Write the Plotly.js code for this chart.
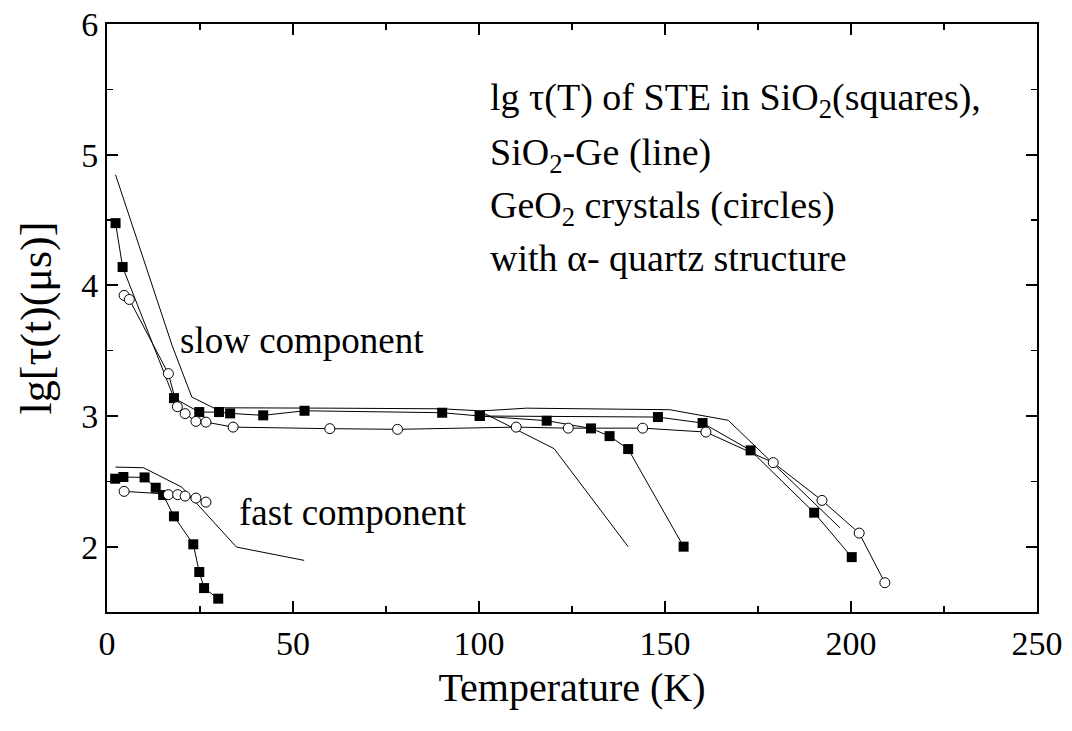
<!DOCTYPE html>
<html>
<head>
<meta charset="utf-8">
<script src="https://cdn.plot.ly/plotly-3.0.1.min.js"></script>
<style>html,body{margin:0;padding:0;background:#fff;}#chart{width:1072px;height:731px;}</style>
</head>
<body>
<div id="chart"></div>
<script>
// Slow component, SiO2 (squares), branch A
const sqSlowA_T = [2.3, 4.2, 18.0, 24.8, 30.1, 33.1, 42.0, 53.1, 90.1, 100.2, 148.1, 160.1, 173.0, 190.1, 200.2];
const sqSlowA_y = [4.476, 4.14, 3.137, 3.03, 3.03, 3.02, 3.005, 3.04, 3.025, 3.0, 2.992, 2.946, 2.737, 2.26, 1.92];
// Slow component, SiO2 (squares), branch B
const sqSlowB_T = [100.2, 118.2, 130.1, 135.1, 140.1, 155.0];
const sqSlowB_y = [3.0, 2.964, 2.905, 2.846, 2.747, 2.0];
// Slow component, GeO2 crystals (circles)
const ciSlow_T = [4.6, 6.0, 16.5, 18.9, 21.0, 23.9, 26.6, 33.9, 59.9, 78.1, 110.0, 124.0, 144.0, 161.0, 179.1, 192.2, 202.2, 209.1];
const ciSlow_y = [3.923, 3.892, 3.324, 3.071, 3.018, 2.959, 2.953, 2.915, 2.903, 2.898, 2.915, 2.907, 2.907, 2.877, 2.643, 2.354, 2.104, 1.724];
// Slow component, SiO2-Ge (lines)
const geSlow1_T = [2.3, 17.5, 22.8, 28.6, 60.0, 90.0, 100.0, 120.2, 140.1];
const geSlow1_y = [4.846, 3.54, 3.145, 3.063, 3.06, 3.055, 3.04, 2.75, 2.0];
const geSlow2_T = [100.0, 103.0, 112.8, 151.3, 167.0, 197.0];
const geSlow2_y = [3.04, 3.043, 3.06, 3.048, 2.967, 2.145];
// Fast component
const sqFast_T = [2.2, 4.4, 10.1, 13.1, 15.1, 18.0, 23.2, 24.8, 26.1, 29.9];
const sqFast_y = [2.52, 2.533, 2.53, 2.451, 2.395, 2.232, 2.018, 1.806, 1.683, 1.602];
const ciFast_T = [4.6, 16.5, 19.0, 21.0, 23.9, 26.6];
const ciFast_y = [2.423, 2.398, 2.398, 2.387, 2.372, 2.341];
const geFast_T = [2.3, 9.8, 20.1, 34.8, 53.0];
const geFast_y = [2.609, 2.604, 2.456, 1.997, 1.895];

const FONT = 'Liberation Serif, Times New Roman, serif';
const lineStyle = {color: '#000', width: 1};
const sqMarker = {symbol: 'square', size: 10, color: '#000'};
const ciMarker = {symbol: 'circle', size: 10, color: '#fff', line: {color: '#000', width: 1}};

function lineTrace(x, y) { return {x, y, mode: 'lines', line: lineStyle, hoverinfo: 'skip'}; }
function markTrace(x, y, m) { return {x, y, mode: 'lines+markers', line: lineStyle, marker: m}; }

const traces = [
  lineTrace(geSlow1_T, geSlow1_y),
  lineTrace(geSlow2_T, geSlow2_y),
  lineTrace(geFast_T, geFast_y),
  markTrace(sqSlowA_T, sqSlowA_y, sqMarker),
  markTrace(sqSlowB_T, sqSlowB_y, sqMarker),
  markTrace(sqFast_T, sqFast_y, sqMarker),
  markTrace(ciSlow_T, ciSlow_y, ciMarker),
  markTrace(ciFast_T, ciFast_y, ciMarker)
];

const axisCommon = {
  showgrid: false, zeroline: false, showline: true, linewidth: 2, linecolor: '#000',
  mirror: 'ticks', ticks: 'inside', ticklen: 11, tickwidth: 2, tickcolor: '#000',
  tickfont: {family: FONT, size: 34, color: '#000'}
};

const layout = {
  width: 1072, height: 731,
  font: {family: FONT, color: '#000'},
  margin: {l: 107, r: 35, t: 24, b: 119},
  paper_bgcolor: '#fff', plot_bgcolor: '#fff',
  showlegend: false,
  xaxis: Object.assign({}, axisCommon, {
    range: [0, 250], dtick: 50, tick0: 0,
    minor: {ticks: 'inside', ticklen: 6, dtick: 25, tickwidth: 1.5, tickcolor: '#000', showgrid: false},
    title: {text: 'Temperature (K)', font: {family: FONT, size: 40, color: '#000'}, standoff: 12}
  }),
  yaxis: Object.assign({}, axisCommon, {
    range: [1.5, 6], dtick: 1, tick0: 0,
    minor: {ticks: 'inside', ticklen: 6, dtick: 0.5, tickwidth: 1.5, tickcolor: '#000', showgrid: false},
    title: {text: 'lg[τ(t)(μs)]', font: {family: FONT, size: 44, color: '#000'}, standoff: 16}
  }),
  annotations: [
    {text: 'lg τ(T) of STE in SiO<sub>2</sub>(squares),', x: 488, y: 100, s: 38},
    {text: 'SiO<sub>2</sub>-Ge (line)', x: 488, y: 155, s: 38},
    {text: 'GeO<sub>2</sub> crystals (circles)', x: 488, y: 208, s: 38},
    {text: 'with α- quartz structure', x: 488, y: 258, s: 38},
    {text: 'slow component', x: 178, y: 340, s: 37},
    {text: 'fast component', x: 237, y: 512, s: 37}
  ].map(a => ({
    text: a.text, xref: 'paper', yref: 'paper',
    x: (a.x - 107) / (1072 - 107 - 35), y: 1 - (a.y - 24) / (731 - 24 - 119),
    xanchor: 'left', yanchor: 'middle', showarrow: false,
    font: {family: FONT, size: a.s, color: '#000'}
  }))
};

Plotly.newPlot('chart', traces, layout, {displayModeBar: false, staticPlot: true});
</script>
</body>
</html>
